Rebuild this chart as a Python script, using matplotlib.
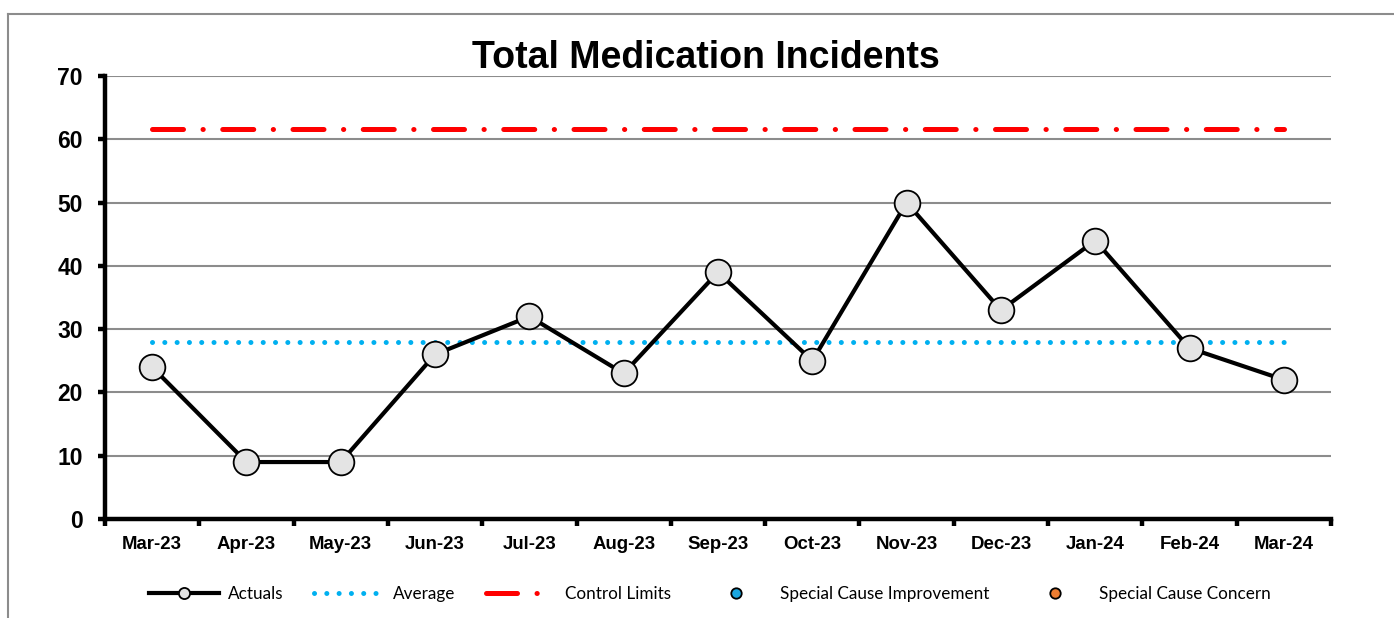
import matplotlib
matplotlib.use("Agg")
import matplotlib.pyplot as plt
from matplotlib.lines import Line2D

# ---- data ----
months = ["Mar-23", "Apr-23", "May-23", "Jun-23", "Jul-23", "Aug-23", "Sep-23",
          "Oct-23", "Nov-23", "Dec-23", "Jan-24", "Feb-24", "Mar-24"]
actuals = [24, 9, 9, 26, 32, 23, 39, 25, 50, 33, 44, 27, 22]
average = [27.9] * 13
upper_limit = [61.6] * 13
y_ticks = [0, 10, 20, 30, 40, 50, 60, 70]
title = "Total Medication Incidents"

W, H = 1394, 618
fig = plt.figure(figsize=(W / 100, H / 100), dpi=100)
fig.patch.set_facecolor("white")

# outer frame (left and top edges visible)
fig.add_artist(Line2D([8 / W, 8 / W], [0, 1 - 14 / H], color="#8c8c8c", lw=1.5,
                      transform=fig.transFigure))
fig.add_artist(Line2D([8 / W, 1], [1 - 14 / H, 1 - 14 / H], color="#8c8c8c", lw=1.5,
                      transform=fig.transFigure))

left, right, top, bottom = 105, 1331, 76, 519
ax = fig.add_axes([left / W, 1 - bottom / H, (right - left) / W, (bottom - top) / H])

x = list(range(len(months)))

ax.set_xlim(-0.5, len(months) - 0.5)
ax.set_ylim(0, 70)
ax.set_yticks(y_ticks)
ax.yaxis.grid(True, color="#8c8c8c", lw=1.5)
ax.set_axisbelow(True)

# control limit
ax.plot(x, upper_limit, color="#ff0000", lw=3.6, dashes=(6.2, 3.9, 0.05, 3.9),
        dash_capstyle="round", solid_capstyle="round", zorder=2)
# average
ax.plot(x, average, color="#00b0f0", lw=3.6, dashes=(0.01, 2.45),
        dash_capstyle="round", zorder=2)
# actuals
ax.plot(x, actuals, color="black", lw=3.0, marker="o", markersize=18.5,
        markerfacecolor="#e4e4e4", markeredgecolor="black", markeredgewidth=1.3,
        zorder=3)

for s in ["top", "right"]:
    ax.spines[s].set_visible(False)
for s in ["left", "bottom"]:
    ax.spines[s].set_linewidth(3.2)
    ax.spines[s].set_color("black")

ax.set_xticks(x)
ax.set_xticklabels(months, fontsize=13.4, fontweight="bold", family="Liberation Sans")
ax.set_xticks([i - 0.5 for i in range(len(months) + 1)], minor=True)
ax.tick_params(axis="x", which="major", length=0, pad=12)
ax.tick_params(axis="x", which="minor", length=5, width=3.2, direction="out")
ax.tick_params(axis="y", which="major", length=5, width=3.2, pad=11)
for lab in ax.get_yticklabels():
    lab.set_fontsize(16.5)
    lab.set_fontweight("bold")
    lab.set_family("Liberation Sans")

fig.text(706 / W, 1 - 58 / H, title, ha="center", va="center", fontsize=27,
         fontweight="bold", family="Liberation Sans")

handles = [
    Line2D([], [], color="black", lw=3.0, marker="o", markersize=8,
           markerfacecolor="#e4e4e4", markeredgecolor="black", markeredgewidth=1.3),
    Line2D([], [], color="#00b0f0", lw=3.6, dashes=(0.01, 2.45), dash_capstyle="round"),
    Line2D([], [], color="#ff0000", lw=3.6, dashes=(6.2, 3.9, 0.05, 6.0),
           dash_capstyle="round"),
    Line2D([], [], ls="none", marker="o", markersize=7.5, markerfacecolor="#1aa6e0",
           markeredgecolor="black", markeredgewidth=1.3),
    Line2D([], [], ls="none", marker="o", markersize=7.5, markerfacecolor="#ed7d31",
           markeredgecolor="black", markeredgewidth=1.3),
]
labels = ["Actuals", "Average", "Control Limits", "Special Cause Improvement",
          "Special Cause Concern"]
fig.legend(handles, labels, loc="center left", bbox_to_anchor=(149 / W, 1 - 594 / H),
           ncol=5, frameon=False, borderpad=0, borderaxespad=0,
           handlelength=4.1, handletextpad=0.55, columnspacing=1.75,
           prop={"family": "Lato", "size": 12.3})

fig.savefig("out.png", dpi=100)
